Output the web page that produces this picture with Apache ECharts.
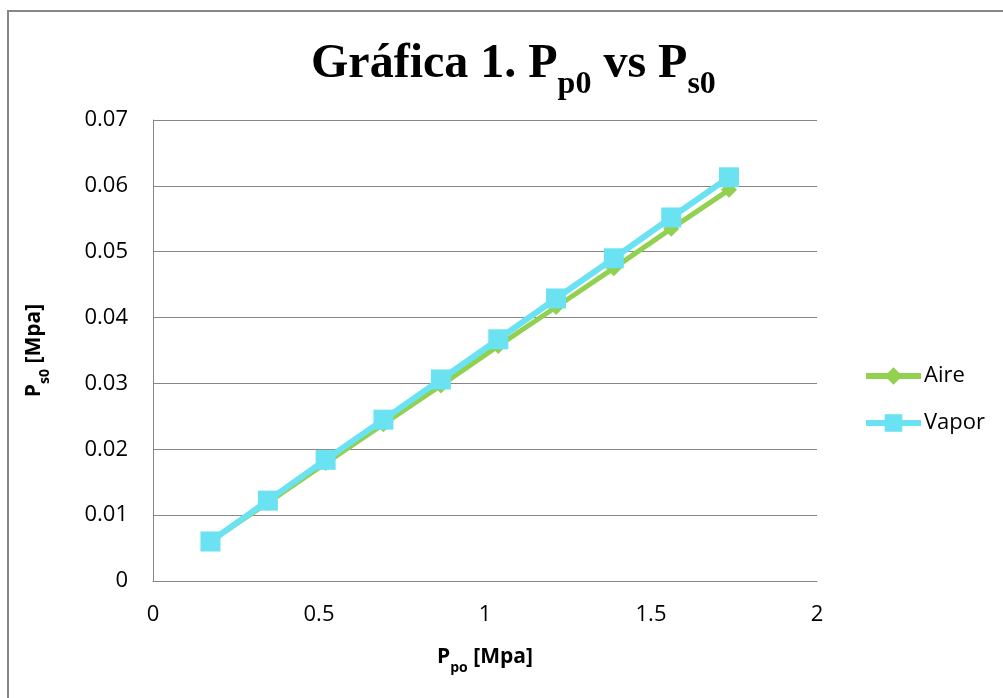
<!DOCTYPE html>
<html>
<head>
<meta charset="utf-8">
<script src="https://cdn.jsdelivr.net/npm/echarts@6/dist/echarts.min.js"></script>
<style>
html,body{margin:0;padding:0;background:#fff;overflow:hidden;}
#frame{position:absolute;left:7px;top:10px;width:1100px;height:800px;border:2px solid #868686;box-sizing:border-box;}
#chart{position:absolute;left:0;top:0;width:1003px;height:698px;}
</style>
</head>
<body>
<div id="frame"></div>
<div id="chart"></div>
<script>
const xPpo = [0.173, 0.346, 0.520, 0.694, 0.867, 1.040, 1.214, 1.388, 1.561, 1.735];
const aire = [0.0060, 0.0119, 0.0179, 0.0238, 0.0297, 0.0357, 0.0416, 0.0475, 0.0535, 0.0594];
const vapor = [0.0060, 0.0122, 0.0184, 0.0245, 0.0306, 0.0367, 0.0429, 0.0490, 0.0552, 0.0613];
const xTicks = [0, 0.5, 1, 1.5, 2];
const yTicks = [0, 0.01, 0.02, 0.03, 0.04, 0.05, 0.06, 0.07];

const chart = echarts.init(document.getElementById('chart'));
const lab = '"Open Sans", "Liberation Sans", sans-serif';
chart.setOption({
  animation: false,
  backgroundColor: 'transparent',
  title: {
    text: '{m|Gráfica 1. P}{s|p0}{m| vs P}{s|s0}',
    left: 306,
    top: 28,
    textStyle: {
      rich: {
        m: {fontFamily: '"Liberation Serif", "Times New Roman", serif', fontWeight: 'bold', fontSize: 48, color: '#000', verticalAlign: 'bottom', lineHeight: 56},
        s: {fontFamily: '"Liberation Serif", "Times New Roman", serif', fontWeight: 'bold', fontSize: 32, color: '#000', verticalAlign: 'bottom', lineHeight: 40, padding: [0, 0, -12, 0]}
      }
    }
  },
  grid: {left: 153, top: 120, right: 186, bottom: 117},
  legend: {
    orient: 'vertical',
    left: 863,
    top: 365,
    padding: 0,
    itemGap: 25,
    itemWidth: 55,
    itemHeight: 22,
    lineStyle: {width: 6},
    textStyle: {fontFamily: lab, fontSize: 22, color: '#000', lineHeight: 22, padding: [0, 0, 0, -2]},
    data: ['Aire', 'Vapor']
  },
  xAxis: {
    type: 'value',
    min: 0, max: 2, interval: 0.5,
    axisLine: {show: true, lineStyle: {color: '#868686', width: 1}},
    axisTick: {show: false},
    splitLine: {show: false},
    axisLabel: {fontFamily: lab, fontSize: 22, color: '#000', margin: 23,
      formatter: v => xTicks.includes(v) ? String(v) : ''},
    name: '{b|P}{sb|po}{b| [Mpa]}',
    nameLocation: 'middle',
    nameGap: 66,
    nameTextStyle: {
      rich: {
        b: {fontFamily: lab, fontWeight: 'bold', fontSize: 21, color: '#000', verticalAlign: 'bottom'},
        sb: {fontFamily: lab, fontWeight: 'bold', fontSize: 14, color: '#000', verticalAlign: 'bottom', padding: [0, 0, -7, 0]}
      }
    }
  },
  yAxis: {
    type: 'value',
    min: 0, max: 0.07, interval: 0.01,
    axisLine: {show: true, lineStyle: {color: '#868686', width: 1}},
    axisTick: {show: false},
    splitLine: {show: true, lineStyle: {color: '#868686', width: 1}},
    axisLabel: {fontFamily: lab, fontSize: 22, color: '#000', margin: 25,
      formatter: v => { const t = yTicks.find(k => Math.abs(k - v) < 1e-9); return t === undefined ? '' : (t === 0 ? '0' : t.toFixed(2)); }},
    name: '{b|P}{sb|s0}{b| [Mpa]}',
    nameLocation: 'middle',
    nameRotate: 90,
    nameGap: 108,
    nameTextStyle: {
      rich: {
        b: {fontFamily: lab, fontWeight: 'bold', fontSize: 21, color: '#000', verticalAlign: 'bottom'},
        sb: {fontFamily: lab, fontWeight: 'bold', fontSize: 14, color: '#000', verticalAlign: 'bottom', padding: [0, 0, -7, 0]}
      }
    }
  },
  series: [
    {
      name: 'Aire', type: 'line',
      data: xPpo.map((x, i) => [x, aire[i]]),
      symbol: 'diamond', symbolSize: 16,
      lineStyle: {color: '#92d050', width: 5},
      itemStyle: {color: '#92d050'}
    },
    {
      name: 'Vapor', type: 'line',
      data: xPpo.map((x, i) => [x, vapor[i]]),
      symbol: 'rect', symbolSize: 20,
      lineStyle: {color: '#6ae2f1', width: 6},
      itemStyle: {color: '#6ae2f1'}
    }
  ]
});
</script>
</body>
</html>
